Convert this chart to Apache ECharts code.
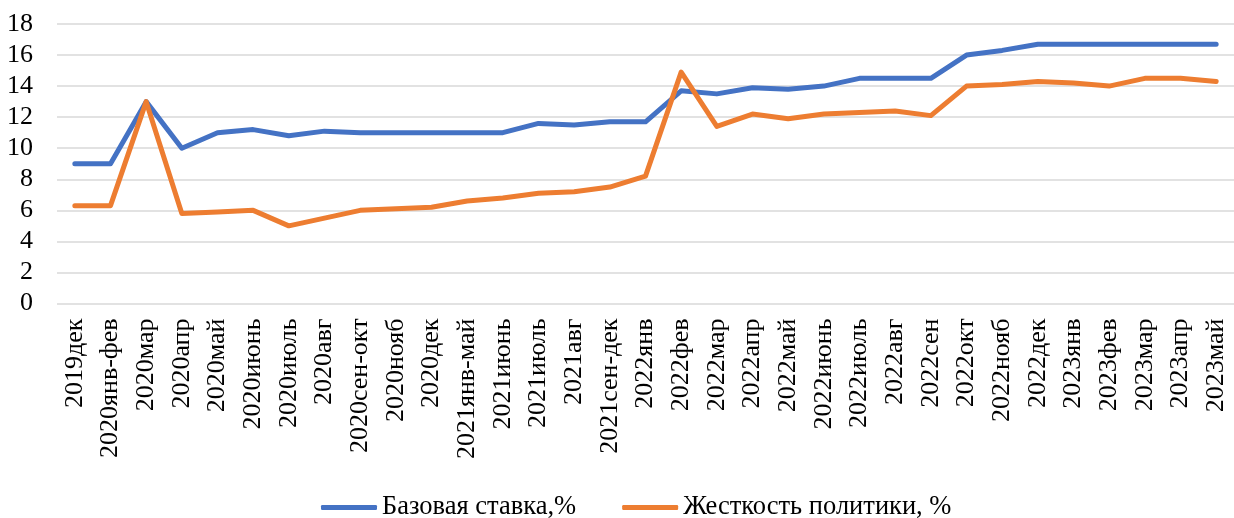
<!DOCTYPE html>
<html><head><meta charset="utf-8">
<script src="https://cdn.jsdelivr.net/npm/echarts@6/dist/echarts.min.js"></script>
<style>html,body{margin:0;padding:0;background:#fff}#c{width:1234px;height:518px}</style>
</head><body><div id="c"></div>
<script>
var categories = ["2019дек","2020янв-фев","2020мар","2020апр","2020май","2020июнь","2020июль","2020авг","2020сен-окт","2020нояб","2020дек","2021янв-май","2021июнь","2021июль","2021авг","2021сен-дек","2022янв","2022фев","2022мар","2022апр","2022май","2022июнь","2022июль","2022авг","2022сен","2022окт","2022нояб","2022дек","2023янв","2023фев","2023мар","2023апр","2023май"];
var baseRate = [9,9,13,10,11,11.2,10.8,11.1,11,11,11,11,11,11.6,11.5,11.7,11.7,13.7,13.5,13.9,13.8,14,14.5,14.5,14.5,16,16.3,16.7,16.7,16.7,16.7,16.7,16.7];
var tightness = [6.3,6.3,13,5.8,5.9,6,5,5.5,6,6.1,6.2,6.6,6.8,7.1,7.2,7.5,8.2,14.9,11.4,12.2,11.9,12.2,12.3,12.4,12.1,14,14.1,14.3,14.2,14,14.5,14.5,14.3];
var seriesNames = ["Базовая ставка,%","Жесткость политики, %"];
var yTicks = {min:0, max:18, interval:2};

var font = "'Liberation Serif','Times New Roman',serif";
var chart = echarts.init(document.getElementById('c'), null, {renderer:'canvas'});
chart.setOption({
  animation:false,
  backgroundColor:'#fff',
  grid:{left:57, right:-6, top:24, bottom:214.5, containLabel:false},
  legend:{
    data:seriesNames, top:489, left:316, itemWidth:56, itemHeight:5, itemGap:46,
    icon:'roundRect',
    textStyle:{fontFamily:font, fontSize:26.5, color:'#000'}
  },
  xAxis:{
    type:'category', data:categories, boundaryGap:true,
    axisLine:{show:false}, axisTick:{show:false},
    axisLabel:{rotate:90, interval:0, margin:15, fontFamily:font, fontSize:26, color:'#000'}
  },
  yAxis:{
    type:'value', min:yTicks.min, max:yTicks.max, interval:yTicks.interval,
    axisLine:{show:false}, axisTick:{show:false},
    axisLabel:{margin:24, fontFamily:font, fontSize:26, color:'#000'},
    splitLine:{lineStyle:{color:'#D9D9D9', width:1.5}}
  },
  series:[
    {name:seriesNames[0], type:'line', data:baseRate, showSymbol:false, symbol:'none',
     lineStyle:{color:'#4472C4', width:5, cap:'round', join:'round'}, itemStyle:{color:'#4472C4'}},
    {name:seriesNames[1], type:'line', data:tightness, showSymbol:false, symbol:'none',
     lineStyle:{color:'#ED7D31', width:5, cap:'round', join:'round'}, itemStyle:{color:'#ED7D31'}}
  ]
});
</script></body></html>
